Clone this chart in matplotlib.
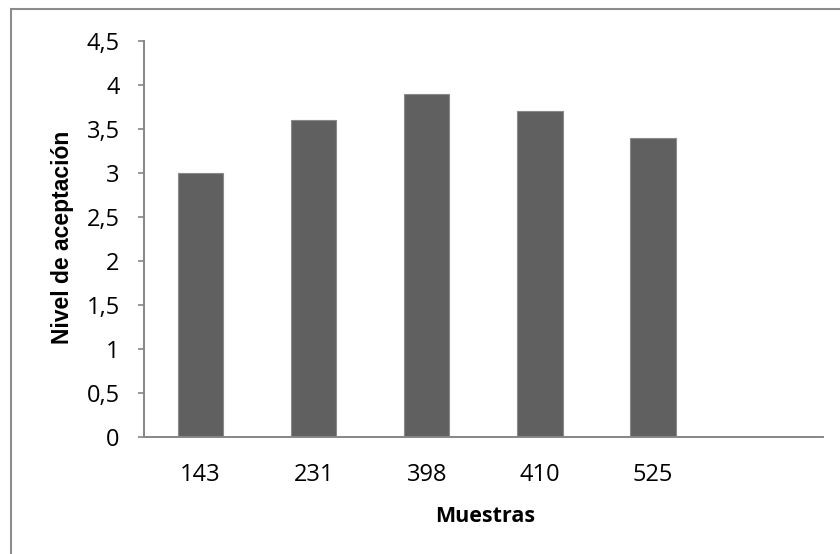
import matplotlib.pyplot as plt
from matplotlib.patches import Rectangle

# Acceptance level per sample
muestras = ['143', '231', '398', '410', '525']
aceptacion = [3.0, 3.6, 3.9, 3.7, 3.4]
slots = 6  # chart keeps one empty category on the right
yticks = [0, 0.5, 1, 1.5, 2, 2.5, 3, 3.5, 4, 4.5]
ytick_labels = [('%g' % v).replace('.', ',') for v in yticks]

axis_gray = '#868686'

fig = plt.figure(figsize=(8.4, 5.54), dpi=100)
ax = fig.add_axes([0.1714, 0.2117, 0.808, 0.7148])

x = list(range(len(muestras)))
ax.bar(x, aceptacion, width=0.4, color='#606060', edgecolor='#8a8a8a', linewidth=0.8, zorder=2)

ax.set_xlim(-0.5, slots - 0.5)
ax.set_ylim(0, 4.5)
ax.set_xticks(x)
ax.set_xticklabels(muestras, fontfamily='Open Sans', fontsize=17)
ax.set_yticks(yticks)
ax.set_yticklabels(ytick_labels, fontfamily='Open Sans', fontsize=17)

for side in ['top', 'right']:
    ax.spines[side].set_visible(False)
for side in ['left', 'bottom']:
    ax.spines[side].set_color(axis_gray)
    ax.spines[side].set_linewidth(1.4)

ax.tick_params(axis='y', direction='out', length=4.5, width=1.2, color=axis_gray, pad=13)
ax.tick_params(axis='x', length=0, pad=19)

# axis titles
fig.text(63 / 840, 1 - 237 / 554, 'Nivel de aceptación', rotation=90,
         ha='center', va='center', fontfamily='Liberation Sans', fontweight='bold', fontsize=16.5)
fig.text(485 / 840, 1 - 516 / 554, 'Muestras', ha='center', va='center',
         fontfamily='Open Sans', fontweight='bold', fontsize=15.5)

# outer chart frame
fig.patches.append(Rectangle((11 / 840, -0.05), 1.2, 1 - 9 / 554 + 0.05,
                             transform=fig.transFigure, fill=False,
                             edgecolor='#8c8c8c', linewidth=1.5))

fig.savefig('out.png', dpi=100)
